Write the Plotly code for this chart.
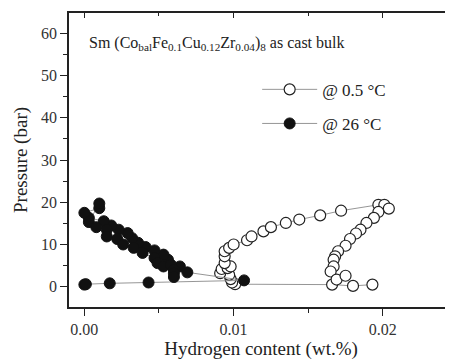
import plotly.graph_objects as go

# 26 °C (filled)
h26 = [0.0000, 0.0001, 0.0017, 0.0043, 0.0107,
       0.0069, 0.0064, 0.0056, 0.0053, 0.0047, 0.0041, 0.0036, 0.0032, 0.0029,
       0.0023, 0.0018, 0.0013, 0.0003, 0.0000, 0.0010, 0.0010,
       0.0003, 0.0008, 0.0015, 0.0015, 0.0022, 0.0026, 0.0033, 0.0039, 0.0047,
       0.0049, 0.0053, 0.0058, 0.0060, 0.0060, 0.0060]
p26 = [0.5, 0.6, 0.8, 1.0, 1.5,
       3.4, 4.8, 6.4, 7.6, 8.6, 9.4, 10.4, 11.5, 12.7,
       13.5, 14.5, 15.5, 16.3, 17.5, 18.6, 19.7,
       15.3, 14.1, 13.5, 11.9, 11.3, 10.0, 9.2, 8.0, 6.8,
       5.6, 4.8, 5.2, 4.0, 3.2, 2.3]

# 0.5 °C (open)
h05 = [0.0193, 0.0180, 0.0166, 0.0101, 0.0099, 0.0098, 0.0097, 0.0091, 0.0092,
       0.0096, 0.0098, 0.0094, 0.0094, 0.0094, 0.0097, 0.0100, 0.0109, 0.0112,
       0.0120, 0.0125, 0.0135, 0.0144, 0.0158, 0.0172, 0.0197, 0.0201, 0.0204,
       0.0197, 0.0194, 0.0189, 0.0185, 0.0182, 0.0178, 0.0175, 0.0170, 0.0168,
       0.0167, 0.0167, 0.0165, 0.0169, 0.0175]
p05 = [0.5, 0.2, 0.5, 0.6, 1.0, 1.8, 2.8, 3.2, 4.2,
       4.4, 4.8, 5.6, 7.2, 8.4, 9.2, 10.0, 11.0, 11.9,
       13.1, 14.1, 15.1, 15.9, 16.9, 18.0, 19.4, 19.4, 18.5,
       17.7, 16.3, 15.1, 13.5, 12.6, 11.3, 9.7, 8.4, 7.2,
       6.4, 4.8, 3.6, 1.7, 2.6]

xticks = [0.00, 0.01, 0.02]
xticklabels = ["0.00", "0.01", "0.02"]
yticks = [0, 10, 20, 30, 40, 50, 60]

SERIF = "Liberation Serif, Times New Roman, serif"

fig = go.Figure()
fig.add_trace(go.Scatter(
    x=h05, y=p05, mode="lines+markers", name="@ 0.5 °C", legendgroup="a",
    line=dict(color="#8a8a8a", width=0.9),
    marker=dict(symbol="circle", size=11, color="white",
                line=dict(color="#222222", width=1.2)),
))
fig.add_trace(go.Scatter(
    x=h26, y=p26, mode="lines+markers", name="@ 26 °C", legendgroup="b",
    line=dict(color="#8a8a8a", width=0.9),
    marker=dict(symbol="circle", size=11, color="#111111",
                line=dict(color="#111111", width=1)),
))
# dummy trace to show top/right inside ticks
fig.add_trace(go.Scatter(x=[], y=[], xaxis="x2", yaxis="y2", showlegend=False))

xr = [-0.00103, 0.0247]
yr = [-4.8, 64.8]

# the page body has an 8px default margin; compensate so the plot sits where the reference has it
fig.update_layout(
    template="none",
    width=445, height=352,
    margin=dict(l=61, r=0, t=5, b=53),
    paper_bgcolor="white", plot_bgcolor="white",
    font=dict(family=SERIF, color="#222222"),
    showlegend=True,
    legend=dict(x=0.49, y=0.80, xanchor="left", yanchor="top",
                bgcolor="rgba(0,0,0,0)", font=dict(size=17, family=SERIF),
                itemwidth=55, tracegroupgap=9),
    xaxis=dict(range=xr, tickvals=xticks, ticktext=xticklabels, automargin=False,
               ticks="outside", ticklen=7, tickwidth=1.2, tickcolor="#222",
               showline=True, linecolor="#222", linewidth=1.5, mirror=True,
               showgrid=False, zeroline=False,
               tickfont=dict(size=16, family=SERIF, color="#333"),
               minor=dict(dtick=0.005, tick0=0, ticks="outside", ticklen=4,
                          tickcolor="#222", showgrid=False),
               title=dict(text="Hydrogen content (wt.%)", standoff=3,
                          font=dict(size=19, family=SERIF, color="#222"))),
    yaxis=dict(range=yr, tickvals=yticks, automargin=False,
               ticks="outside", ticklen=7, tickwidth=1.2, tickcolor="#222",
               showline=True, linecolor="#222", linewidth=1.5, mirror=True,
               showgrid=False, zeroline=False,
               tickfont=dict(size=16, family=SERIF, color="#333"),
               minor=dict(dtick=5, tick0=0, ticks="outside", ticklen=4,
                          tickcolor="#222", showgrid=False),
               title=dict(text="Pressure (bar)", standoff=8,
                          font=dict(size=19, family=SERIF, color="#222"))),
    xaxis2=dict(range=xr, overlaying="x", side="top", tickvals=xticks, automargin=False,
                ticks="inside", ticklen=5, tickcolor="#222", showticklabels=False,
                showgrid=False, zeroline=False, showline=False,
                minor=dict(dtick=0.005, tick0=0, ticks="inside", ticklen=3,
                           tickcolor="#222")),
    yaxis2=dict(range=yr, overlaying="y", side="right", tickvals=yticks, automargin=False,
                ticks="inside", ticklen=5, tickcolor="#999", showticklabels=False,
                showgrid=False, zeroline=False, showline=False),
    annotations=[dict(
        x=0.048, y=0.895, xref="paper", yref="paper", xanchor="left", yanchor="middle",
        showarrow=False,
        text="Sm (Co<sub>bal</sub>Fe<sub>0.1</sub>Cu<sub>0.12</sub>Zr<sub>0.04</sub>)<sub>8</sub> as cast bulk",
        font=dict(size=16, family=SERIF, color="#222"))],
)

fig.write_html("out.html")
